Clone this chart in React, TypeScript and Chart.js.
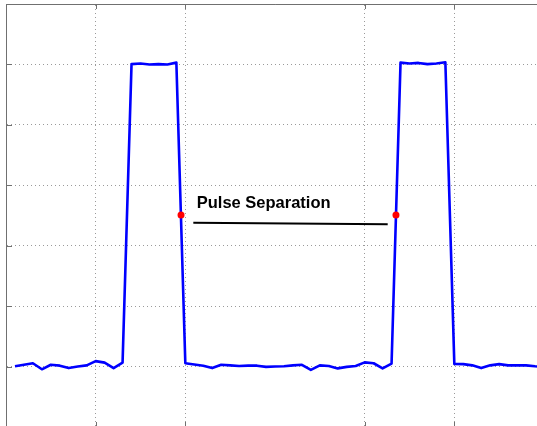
import React, { useEffect, useRef } from "react";
import { Chart, registerables } from "chart.js";

Chart.register(...registerables);

// Sample times (x units) and measured signal values
const sampleTimes = [
  0.1, 0.2, 0.3, 0.4, 0.5, 0.6, 0.7, 0.8, 0.9, 1.0,
  1.1, 1.2, 1.3, 1.4, 1.5, 1.6, 1.7, 1.8, 1.9, 2.0,
  2.1, 2.2, 2.3, 2.4, 2.5, 2.6, 2.7, 2.8, 2.9, 3.0,
  3.1, 3.2, 3.3, 3.4, 3.5, 3.6, 3.7, 3.8, 3.9, 4.0,
  4.1, 4.2, 4.3, 4.4, 4.5, 4.6, 4.7, 4.8, 4.9, 5.0,
  5.1, 5.2, 5.3, 5.4, 5.5, 5.6, 5.7, 5.8, 5.9, 6.0,
];
const signalValues = [
  0.001, 0.006, 0.011, -0.009, 0.006, 0.003, -0.005, 0.0, 0.004, 0.018,
  0.013, -0.005, 0.013, 1.001, 1.003, 1.0, 1.001, 1.0, 1.006, 0.011,
  0.007, 0.003, -0.005, 0.006, 0.004, 0.002, 0.003, 0.003, -0.001, 0.0,
  0.001, 0.004, 0.006, -0.011, 0.004, 0.002, -0.006, -0.001, 0.002, 0.014,
  0.011, -0.006, 0.01, 1.006, 1.003, 1.005, 1.001, 1.003, 1.007, 0.009,
  0.008, 0.004, -0.005, 0.004, 0.008, 0.004, 0.004, 0.004, 0.001, -0.001,
];

// Half-amplitude markers
const markerX = [1.952, 4.349];
const markerY = [0.502, 0.502];

// Separation line
const sepLineX = [2.089, 4.257];
const sepLineY = [0.476, 0.471];

const labelText = "Pulse Separation";
const labelX = 2.127;
const labelY = 0.525;

// Axes
const xMin = 0;
const xMax = 6;
const xTicks = [0, 1, 2, 4, 5, 6];
const xTickMarks = [1, 2, 4, 5];
const yMin = -0.2;
const yMax = 1.2;
const yTicks = [0, 0.2, 0.4, 0.6, 0.8, 1.0, 1.2];
const yTickMarks = [0, 0.2, 0.4, 0.6, 0.8, 1.0];

export default function App() {
  const canvasRef = useRef<HTMLCanvasElement | null>(null);

  useEffect(() => {
    const canvas = canvasRef.current;
    if (!canvas) return;

    const overlay = {
      id: "overlay",
      afterDraw(chart: any) {
        const { ctx, chartArea, scales } = chart;
        const xs = scales.x;
        const ys = scales.y;
        ctx.save();
        ctx.strokeStyle = "#707070";
        ctx.lineWidth = 1;
        ctx.beginPath();
        for (const t of xTickMarks) {
          const px = Math.round(xs.getPixelForValue(t)) + 0.5;
          ctx.moveTo(px, chartArea.top);
          ctx.lineTo(px, chartArea.top + 5);
          ctx.moveTo(px, chartArea.bottom);
          ctx.lineTo(px, chartArea.bottom - 5);
        }
        for (const t of yTickMarks) {
          const py = Math.round(ys.getPixelForValue(t)) + 0.5;
          ctx.moveTo(chartArea.left, py);
          ctx.lineTo(chartArea.left + 6, py);
        }
        ctx.stroke();
        ctx.fillStyle = "#000000";
        ctx.font = 'bold 16.5px "Liberation Sans", Arial, sans-serif';
        ctx.textBaseline = "alphabetic";
        ctx.textAlign = "left";
        ctx.fillText(labelText, xs.getPixelForValue(labelX), ys.getPixelForValue(labelY));
        ctx.restore();
      },
    };

    const chart = new Chart(canvas, {
      type: "line",
      data: {
        datasets: [
          {
            label: "markers",
            data: markerX.map((x, i) => ({ x, y: markerY[i] })),
            showLine: false,
            pointRadius: 3.5,
            pointBackgroundColor: "#ff0000",
            pointBorderWidth: 0,
            borderColor: "#ff0000",
          },
          {
            label: "separation",
            data: sepLineX.map((x, i) => ({ x, y: sepLineY[i] })),
            borderColor: "#000000",
            borderWidth: 2.2,
            pointRadius: 0,
            tension: 0,
          },
          {
            label: "signal",
            data: sampleTimes.map((x, i) => ({ x, y: signalValues[i] })),
            borderColor: "#0000ff",
            borderWidth: 2.6,
            pointRadius: 0,
            tension: 0,
            borderJoinStyle: "round",
          },
        ],
      },
      options: {
        animation: false,
        responsive: false,
        devicePixelRatio: 1,
        layout: { autoPadding: false, padding: { left: 6, top: 4, right: 0, bottom: 0 } },
        plugins: { legend: { display: false }, tooltip: { enabled: false } },
        scales: {
          x: {
            type: "linear",
            position: "top",
            min: xMin,
            max: xMax,
            afterBuildTicks: (axis: any) => {
              axis.ticks = xTicks.map((v) => ({ value: v }));
            },
            ticks: { display: false },
            grid: { color: "#9a9a9a", lineWidth: 1, drawTicks: false },
            border: { display: true, color: "#707070", width: 1, dash: [1, 3] },
          },
          y: {
            type: "linear",
            position: "left",
            min: yMin,
            max: yMax,
            afterBuildTicks: (axis: any) => {
              axis.ticks = yTicks.map((v) => ({ value: v }));
            },
            ticks: { display: false },
            grid: { color: "#9a9a9a", lineWidth: 1, drawTicks: false },
            border: { display: true, color: "#707070", width: 1, dash: [1, 3] },
          },
        },
      },
      plugins: [overlay],
    } as any);

    return () => chart.destroy();
  }, []);

  return (
    <div
      style={{
        position: "fixed",
        left: 0,
        top: 0,
        width: 537,
        height: 426,
        overflow: "hidden",
        background: "#ffffff",
      }}
    >
      <canvas
        ref={canvasRef}
        width={544}
        height={427}
        style={{ position: "absolute", left: 0, top: 0, width: 544, height: 427 }}
      />
    </div>
  );
}
